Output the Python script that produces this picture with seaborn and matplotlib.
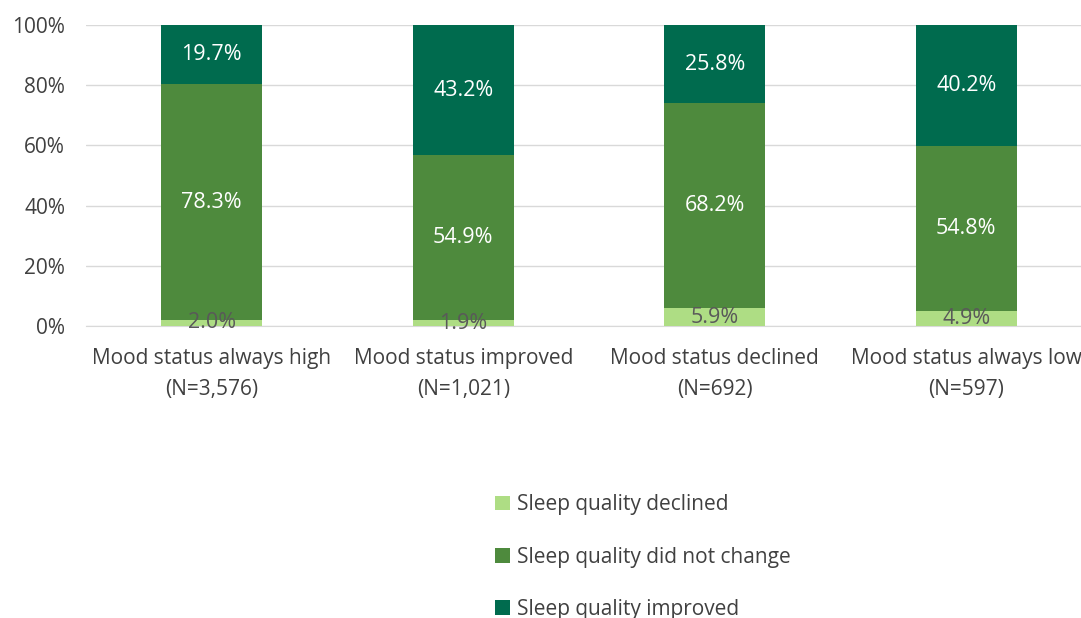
import matplotlib
matplotlib.use("Agg")
import matplotlib.pyplot as plt
from matplotlib.patches import Patch
import seaborn as sns
import pandas as pd
import numpy as np

categories = ["Mood status always high\n(N=3,576)", "Mood status improved\n(N=1,021)",
              "Mood status declined\n(N=692)", "Mood status always low\n(N=597)"]
series_names = ["Sleep quality declined", "Sleep quality did not change", "Sleep quality improved"]
declined = [2.0, 1.9, 5.9, 4.9]
no_change = [78.3, 54.9, 68.2, 54.8]
improved = [19.7, 43.2, 25.8, 40.2]
y_ticks = [0, 20, 40, 60, 80, 100]

colors = ["#AEDD84", "#4E8A3D", "#006B4E"]
label_colors = ["#595959", "white", "white"]

sns.set_style("white")
plt.rcParams['font.family'] = ['Open Sans', 'DejaVu Sans']

fig = plt.figure(figsize=(10.81, 6.18), dpi=100)
ax = fig.add_axes([86/1081, 1-326/618, 1006/1081, (326-25)/618])

series = [declined, no_change, improved]
bottom = np.zeros(len(categories))
for name, vals, col, lc in zip(series_names, series, colors, label_colors):
    df = pd.DataFrame({"cat": categories, "val": vals})
    sns.barplot(data=df, x="cat", y="val", color=col, width=0.4, ax=ax,
                bottom=bottom.copy(), saturation=1, zorder=3, linewidth=0)
    for i, v in enumerate(vals):
        ax.text(i, bottom[i] + v/2, f"{v:.1f}%", ha="center", va="center",
                color=lc, fontsize=15.5, zorder=5)
    bottom = bottom + np.array(vals)

ax.set_ylim(0, 100)
ax.set_xlim(-0.5, 3.5)
ax.set_yticks(y_ticks)
ax.set_yticklabels([f"{t}%" for t in y_ticks])
ax.yaxis.grid(True, color="#D9D9D9", linewidth=1, zorder=0)
ax.set_axisbelow(True)
for s in ["top", "right", "left"]:
    ax.spines[s].set_visible(False)
ax.spines["bottom"].set_color("#D9D9D9")
ax.tick_params(axis="both", length=0, labelsize=15, colors="#404040")
ax.tick_params(axis="x", pad=16)
ax.tick_params(axis="y", pad=15)
for lbl in ax.get_xticklabels():
    lbl.set_linespacing(1.6)
ax.set_xlabel("")
ax.set_ylabel("")

handles = [Patch(facecolor=c, edgecolor="none") for c in colors]
fig.legend(handles, series_names, loc="center", bbox_to_anchor=(643/1081, 1-557/618),
           frameon=False, fontsize=15, labelspacing=1.5, handlelength=0.7,
           handleheight=0.7, handletextpad=0.35, labelcolor="#404040")

fig.savefig("out.png", dpi=100)
